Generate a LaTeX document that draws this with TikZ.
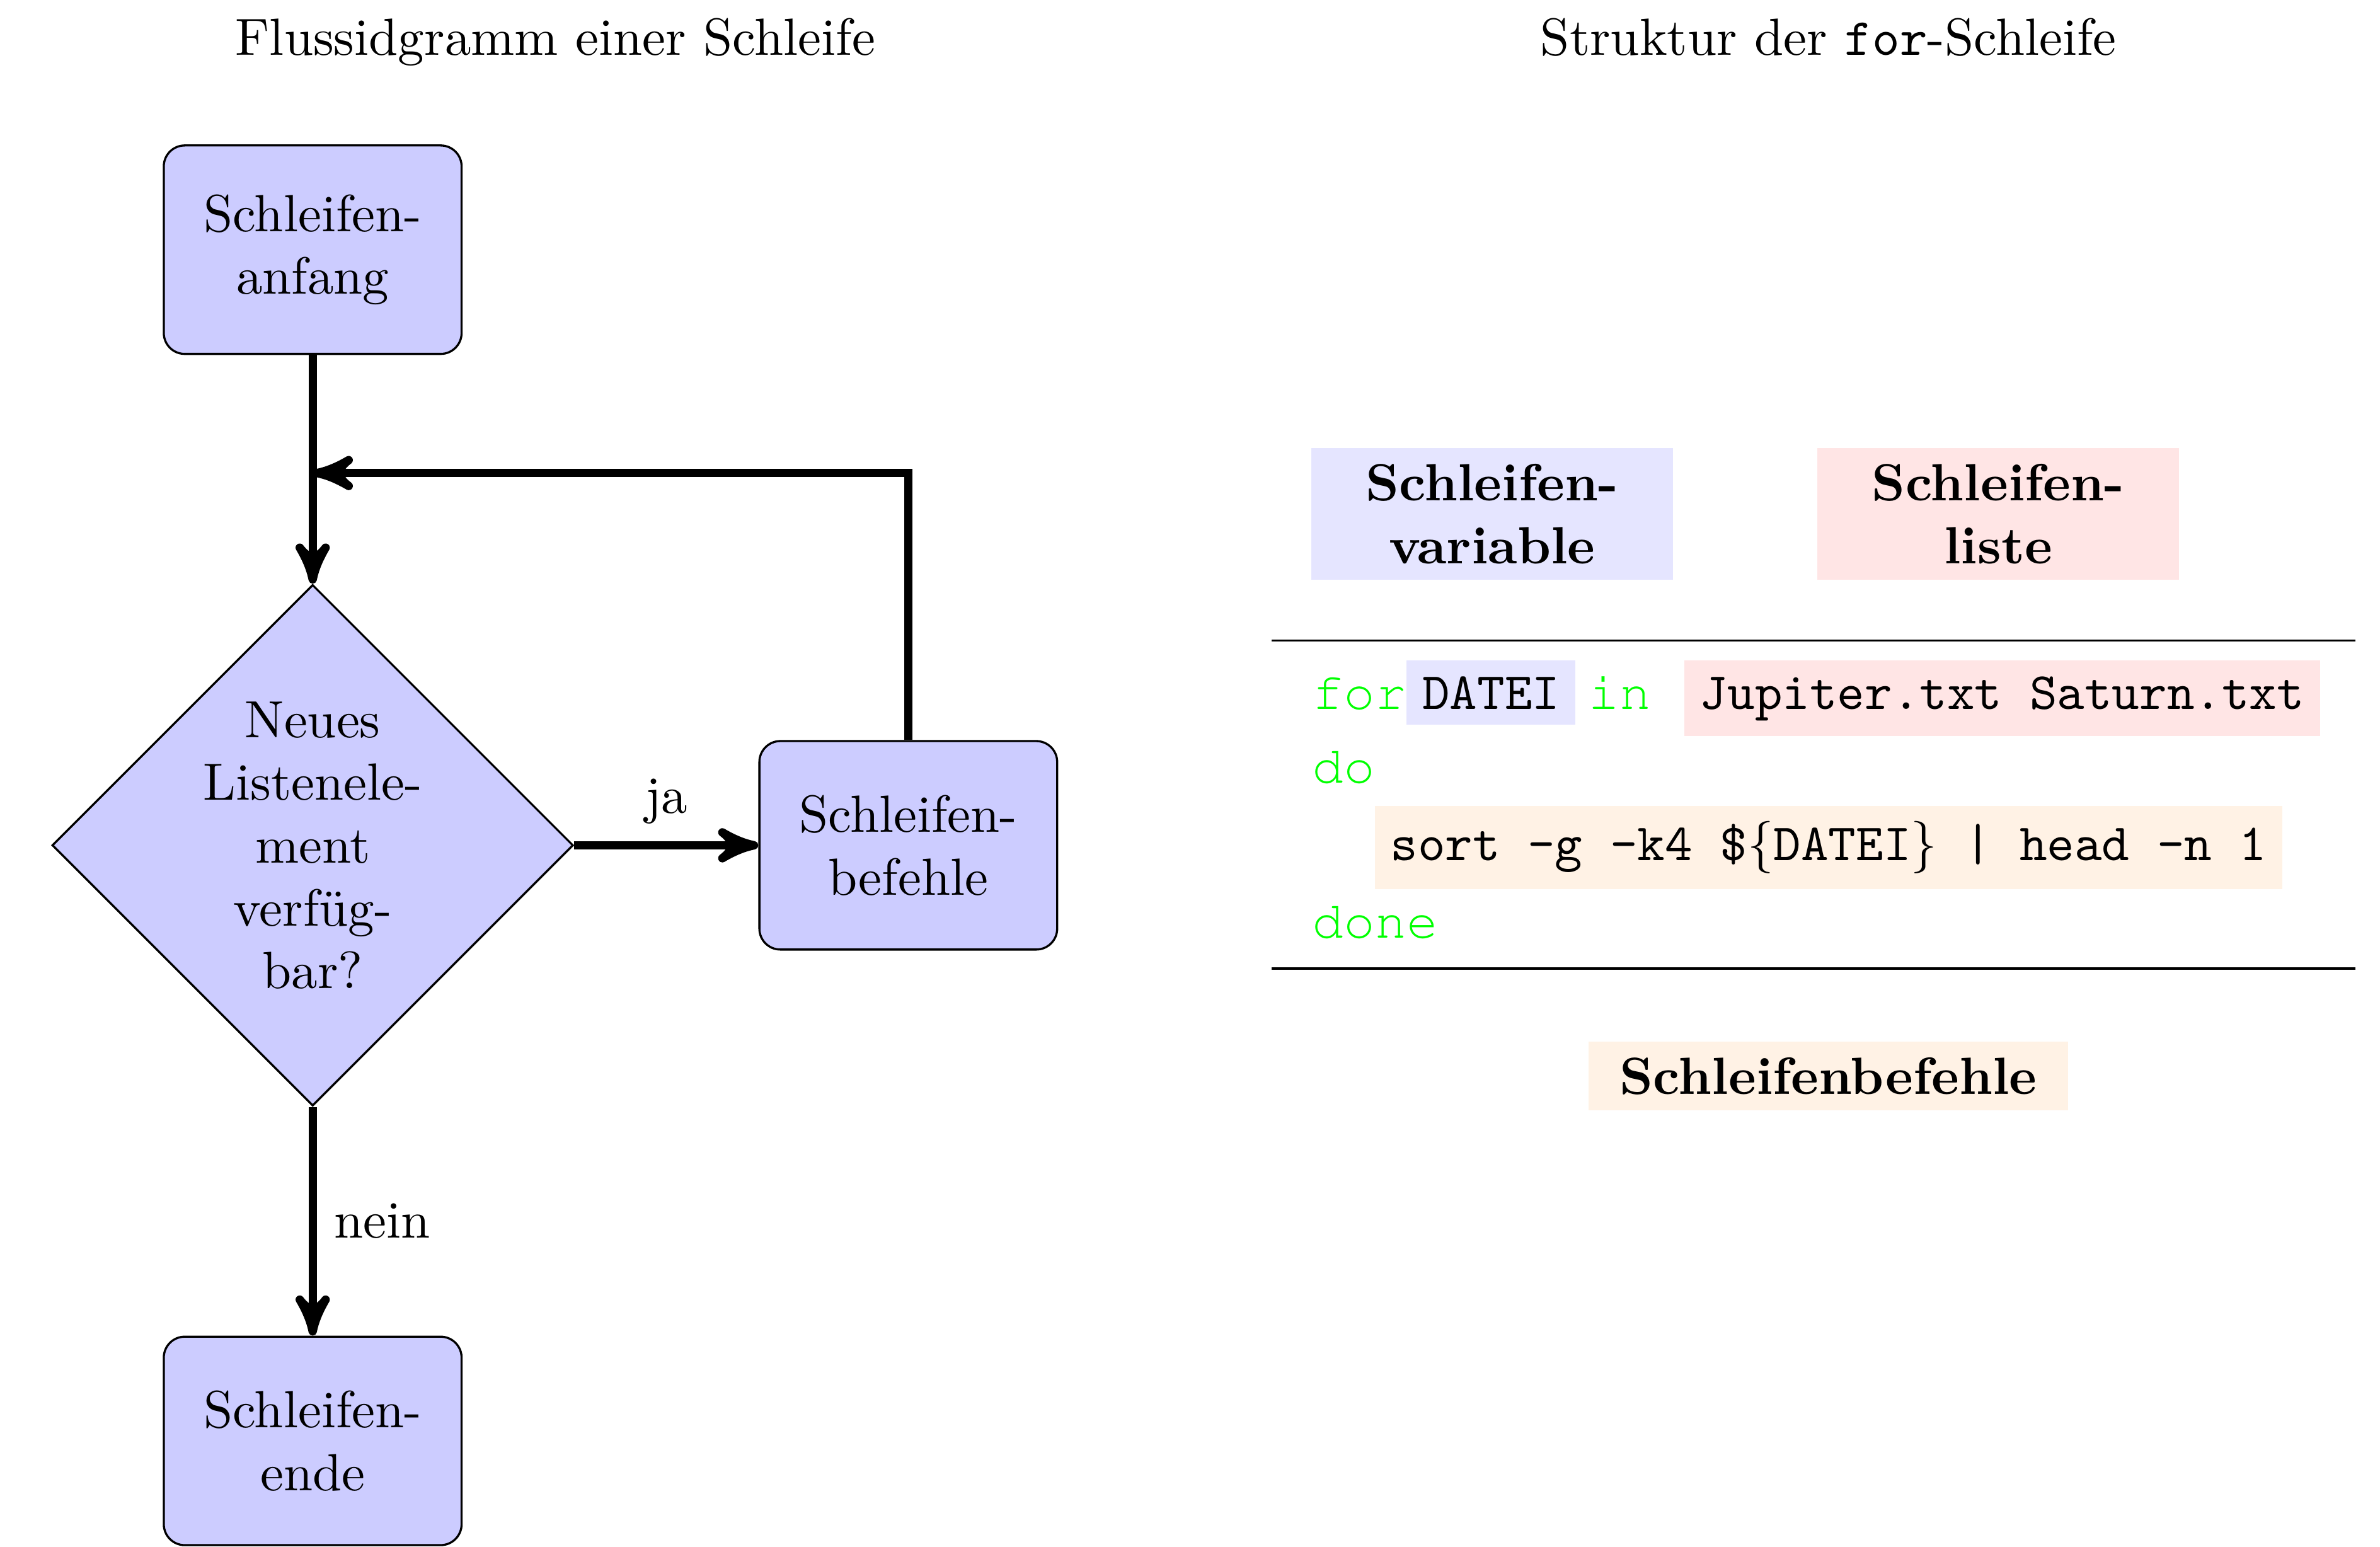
\documentclass[tikz,border=0pt]{standalone}
\usepackage[T1,TU]{fontenc}
\newcommand\kwfont{\fontencoding{T1}\fontfamily{pcr}\selectfont}
\usetikzlibrary{shapes.geometric,arrows}

\begin{document}
\begin{tikzpicture}[
  box/.style={rectangle, rounded corners, draw=black, fill=blue!20, minimum width=2cm, minimum height=1.4cm, align=center},
  decision/.style={diamond, aspect=1, draw=black, fill=blue!20, minimum size=3.5cm, inner sep=0pt, align=center},
  flow/.style={-stealth', ultra thick, draw=black},
  labelbox/.style={inner sep=3pt, minimum width=2.43cm, align=center, font=\bfseries},
  codetext/.style={anchor=base west, inner sep=0pt, font=\ttfamily},
  keyword/.style={anchor=base west, inner sep=0pt, font=\kwfont, text=green},
  hilite/.style={codetext, inner sep=3pt}
]
\useasboundingbox (-2.10,-8.711) rectangle (13.884,1.677);

% Flussdiagramm
\node[anchor=north] (titleflow) at (1.63,1.677) {Flussidgramm einer Schleife};
\node[box] (start) at (0,0) {Schleifen-\\anfang};
\node[decision] (test) at (0,-4) {Neues\\Listenele-\\ment\\verfüg-\\bar?};
\node[box] (body) at (4,-4) {Schleifen-\\befehle};
\node[box] (stop) at (0,-8) {Schleifen-\\ende};
\coordinate (merge) at (0,-1.5);
\path [flow] (start) edge (test);
\path [flow] (test) edge node[midway, above] {ja} (body);
\path [flow] (test) edge node[midway, right] {nein} (stop);
\draw [flow] (body) |- (merge);

% Struktur
\node[anchor=north] (titlefor) at (10.18,1.677) {Struktur der \texttt{for}-Schleife};
\node[labelbox, fill=blue!10] (varlabel) at (7.92,-1.774) {Schleifen-\\variable};
\node[labelbox, fill=red!10] (listlabel) at (11.32,-1.774) {Schleifen-\\liste};
\coordinate (topL) at (6.442,-2.625);
\coordinate (topR) at (13.72,-2.625);
\coordinate (botL) at (6.442,-4.827);
\coordinate (botR) at (13.72,-4.827);
\draw (topL) -- (topR);
\draw (botL) -- (botR);
\node[keyword] (kwfor) at (6.707,-3.084) {for};
\node[hilite, fill=blue!10] (var) at (7.34,-3.084) {DATEI};
\node[keyword] (kwin) at (8.56,-3.084) {in};
\node[hilite, fill=red!10] (list) at (9.205,-3.084) {Jupiter.txt Saturn.txt};
\node[keyword] (kwdo) at (6.707,-3.583) {do};
\node[hilite, fill=orange!10] (cmd) at (7.125,-4.103) {sort -g -k4 \$$\{$DATEI$\}$ | head -n 1};
\node[keyword] (kwdone) at (6.707,-4.623) {done};
\node[labelbox, fill=orange!10, minimum width=3.22cm] (cmdlabel) at (10.18,-5.55) {Schleifenbefehle};
\end{tikzpicture}
\end{document}
